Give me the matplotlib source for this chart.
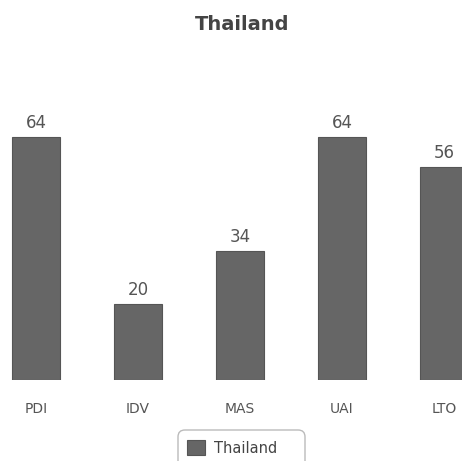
import numpy as np
import matplotlib.pyplot as plt
from matplotlib.patches import FancyBboxPatch

dims = ["PDI", "IDV", "MAS", "UAI", "LTO"]
scores = [64, 20, 34, 64, 56]
country = "Thailand"

W, H = 462, 461
fig = plt.figure(figsize=(W / 100, H / 100), dpi=100)

# axes in pixel terms: bottom of bars at y=380, top at y=60
ax = fig.add_axes([0, (H - 380) / H, 1, 320 / H])
x = np.arange(len(dims))
bars = ax.bar(x, scores, width=0.47, color="#666666", edgecolor="#555555",
              linewidth=0.8, label=country)
ax.set_xlim(-36 / 102, (W - 36) / 102)
ax.set_ylim(0, 320 / 3.8)

for b, v in zip(bars, scores):
    ax.text(b.get_x() + b.get_width() / 2, v + 1.3, str(v), ha="center",
            va="bottom", fontsize=12, color="#555555")

ax.set_xticks(x)
ax.set_xticklabels(dims, fontsize=10, color="#555555")
ax.tick_params(axis="x", length=0, pad=16)
ax.set_yticks([])
for s in ax.spines.values():
    s.set_visible(False)

fig.text(242 / W, 1 - 25 / H, country, ha="center", va="center",
         fontsize=14, fontweight="bold", color="#444444")

# legend: rounded box drawn by hand, entries without frame
box = FancyBboxPatch((178 / W, -20 / H), 127 / W, (461 - 430 + 20) / H,
                     boxstyle="round,pad=0,rounding_size=0.015",
                     transform=fig.transFigure, facecolor="white",
                     edgecolor="#bbbbbb", linewidth=1.0)
fig.patches.append(box)
leg = fig.legend(loc="center", bbox_to_anchor=(232 / W, 1 - 448 / H),
                 frameon=False, fontsize=10.5, handlelength=1.2,
                 handleheight=1.2, handletextpad=0.6, borderpad=0,
                 labelcolor="#444444")

fig.savefig("out.png", dpi=100)
